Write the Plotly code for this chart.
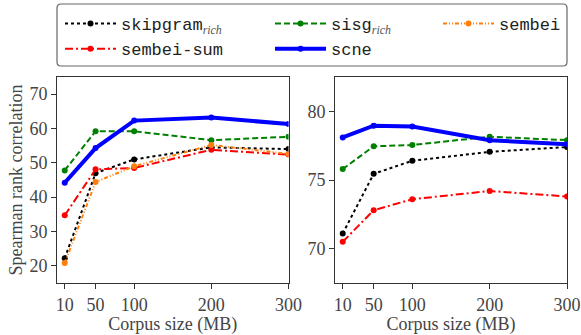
import plotly.graph_objects as go

sizes = [10, 50, 100, 200, 300]

# Left panel
left_skipgram = [22.2, 47.0, 51.0, 54.5, 54.0]
left_sisg = [47.8, 59.2, 59.2, 56.6, 57.6]
left_sembei = [20.8, 44.4, 49.0, 55.2, 52.6]
left_sembei_sum = [34.7, 48.1, 48.5, 53.8, 52.4]
left_scne = [44.2, 54.3, 62.3, 63.2, 61.3]

# Right panel
right_skipgram = [71.1, 75.45, 76.4, 77.05, 77.4]
right_sisg = [75.8, 77.45, 77.55, 78.15, 77.9]
right_sembei_sum = [70.5, 72.8, 73.6, 74.2, 73.8]
right_scne = [78.1, 78.95, 78.9, 77.9, 77.6]

left_yticks = [20, 30, 40, 50, 60, 70]
right_yticks = [70, 75, 80]

SERIF = "Liberation Serif"
MONO = "Liberation Mono"

def sub(name):
    return name + '<sub><span style="font-family:Liberation Serif;font-style:italic;fill:#555">rich</span></sub>'

styles = {
    "skipgram": dict(color="black", dash="dot", width=2, name=sub("skipgram"), legend="legend"),
    "sisg": dict(color="#008000", dash="6px,3px", width=2, name=sub("sisg"), legend="legend2"),
    "sembei": dict(color="#ff7f0e", dash="4px,2px,1px,2px,1px,2px", width=2, name="sembei", legend="legend3"),
    "sembei_sum": dict(color="#ff0000", dash="8px,3px,2px,3px", width=2, name="sembei-sum", legend="legend"),
    "scne": dict(color="#0000ff", dash="solid", width=4, name="scne", legend="legend2"),
}

fig = go.Figure()

def add(key, y, xaxis, yaxis, show):
    s = styles[key]
    fig.add_trace(go.Scatter(
        x=sizes, y=y, mode="lines+markers", name=s["name"],
        line=dict(color=s["color"], dash=s["dash"], width=s["width"]),
        marker=dict(color=s["color"], size=6),
        xaxis=xaxis, yaxis=yaxis, showlegend=show, legend=s["legend"],
        cliponaxis=True,
    ))

# order for legend
add("skipgram", left_skipgram, "x", "y", True)
add("sembei_sum", left_sembei_sum, "x", "y", True)
add("sisg", left_sisg, "x", "y", True)
add("sembei", left_sembei, "x", "y", True)
add("scne", left_scne, "x", "y", True)

add("skipgram", right_skipgram, "x2", "y2", False)
add("sisg", right_sisg, "x2", "y2", False)
add("sembei_sum", right_sembei_sum, "x2", "y2", False)
add("scne", right_scne, "x2", "y2", False)

W, H = 581, 335
ml, mr, mt, mb = 57, 14, 77, 52
pw, ph = W - ml - mr, H - mt - mb

axis_common = dict(
    showline=True, linecolor="#333", linewidth=1, mirror=True,
    ticks="outside", ticklen=5, tickcolor="#333", tickwidth=1,
    showgrid=False, zeroline=False,
    tickfont=dict(family=SERIF, size=18, color="#444"),
)
title_font = dict(family=SERIF, size=18, color="#444")

fig.update_layout(
    width=W, height=H,
    margin=dict(l=ml, r=mr, t=mt, b=mb, autoexpand=False),
    paper_bgcolor="white", plot_bgcolor="white",
    xaxis=dict(domain=[0, (288.5 - ml) / pw], range=[0, 300], tickvals=sizes,
               title=dict(text="Corpus size (MB)", font=title_font, standoff=1),
               **axis_common),
    yaxis=dict(range=[15, 75], tickvals=left_yticks,
               title=dict(text="Spearman rank correlation", font=title_font, standoff=2),
               **axis_common),
    xaxis2=dict(domain=[(335 - ml) / pw, 1], range=[0, 300], tickvals=sizes, anchor="y2",
                title=dict(text="Corpus size (MB)", font=title_font, standoff=1),
                **axis_common),
    yaxis2=dict(range=[67.5, 82.5], tickvals=right_yticks, anchor="x2", **axis_common),
    showlegend=True,
)

leg_common = dict(orientation="v", xanchor="left", yanchor="top", bgcolor="rgba(0,0,0,0)",
                  borderwidth=0, font=dict(family=MONO, size=17, color="#222"),
                  itemwidth=51, tracegroupgap=0)
fig.update_layout(
    legend=dict(x=(60 - ml) / pw, y=(283 - 6) / ph, **leg_common),
    legend2=dict(x=(270 - ml) / pw, y=(283 - 6) / ph, **leg_common),
    legend3=dict(x=(438 - ml) / pw, y=(283 - 6) / ph, **leg_common),
)

# rounded legend frame
x0, x1 = 0.0, 1.0
y0, y1 = (283 - 66) / ph, (283 - 4) / ph
rx, ry = 4 / pw, 4 / ph
path = (f"M {x0+rx},{y1} L {x1-rx},{y1} Q {x1},{y1} {x1},{y1-ry} "
        f"L {x1},{y0+ry} Q {x1},{y0} {x1-rx},{y0} L {x0+rx},{y0} "
        f"Q {x0},{y0} {x0},{y0+ry} L {x0},{y1-ry} Q {x0},{y1} {x0+rx},{y1} Z")
fig.add_shape(type="path", xref="paper", yref="paper", path=path,
              line=dict(color="#666", width=1.2), fillcolor="rgba(0,0,0,0)")

fig.write_html("out.html", config={"displayModeBar": False},
               post_script="document.body.style.margin='0';document.body.style.overflow='hidden';")
